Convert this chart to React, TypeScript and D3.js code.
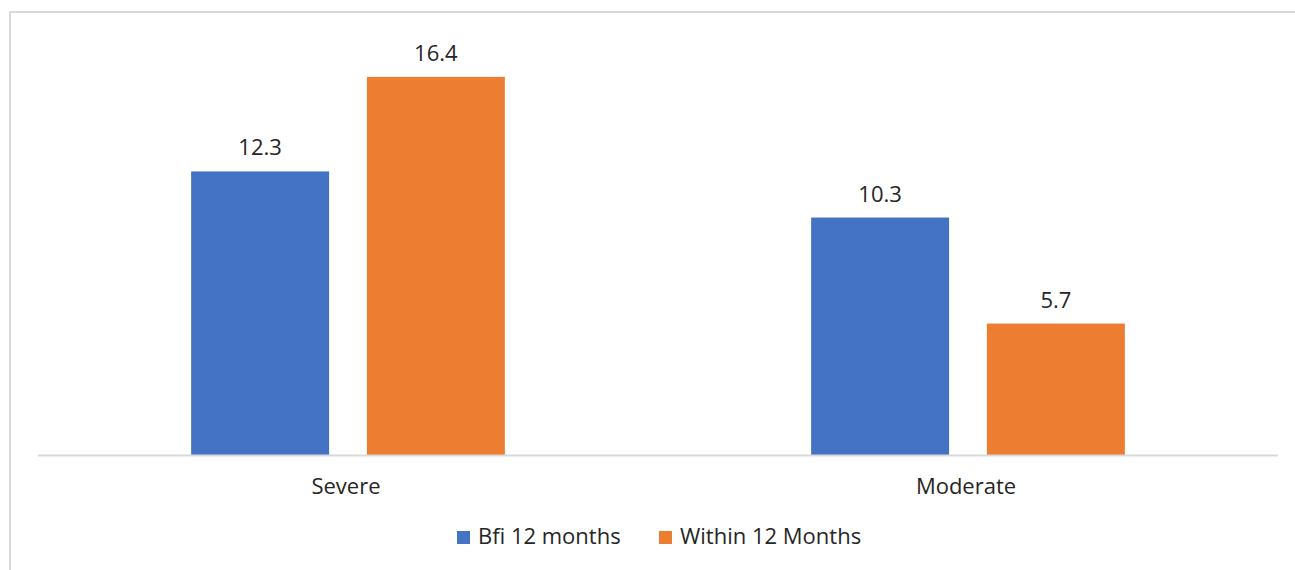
import React from "react";
import * as d3 from "d3";

const categories = ["Severe", "Moderate"];
const seriesNames = ["Bfi 12 months", "Within 12 Months"];
const bfiValues = [12.3, 10.3];
const withinValues = [16.4, 5.7];
const seriesColors = ["#4472C4", "#ED7D31"];
const yMax = 18;

const W = 1295;
const H = 570;
const FONT = "'Open Sans', sans-serif";
const TEXT = "#262626";
const FS = 22;

export default function App() {
  const plotLeft = 38;
  const plotRight = 1278;
  const baseY = 455;
  const topY = 40;

  const y = d3.scaleLinear().domain([0, yMax]).range([baseY, topY]);
  const x0 = d3.scaleBand<string>().domain(categories).range([plotLeft, plotRight]).padding(0);
  const bw0 = x0.bandwidth();
  const x1 = d3
    .scaleBand<string>()
    .domain(seriesNames)
    .range([bw0 * 0.247, bw0 * 0.753])
    .paddingInner(0.215)
    .paddingOuter(0);

  const values = [bfiValues, withinValues];

  return (
    <svg
      width={W}
      height={H}
      style={{ position: "absolute", left: 0, top: 0, display: "block", background: "#fff" }}
      fontFamily={FONT}
    >
      <rect x={10} y={12} width={W + 10} height={H + 10} fill="#fff" stroke="#d9d9d9" strokeWidth={2} />
      {categories.map((c, ci) => (
        <g key={c}>
          {seriesNames.map((s, si) => {
            const v = values[si][ci];
            const bx = (x0(c) ?? 0) + (x1(s) ?? 0);
            return (
              <g key={s}>
                <rect
                  x={bx}
                  y={y(v)}
                  width={x1.bandwidth()}
                  height={y(0) - y(v)}
                  fill={seriesColors[si]}
                />
                <text
                  x={bx + x1.bandwidth() / 2}
                  y={y(v) - 16}
                  textAnchor="middle"
                  fontSize={FS}
                  fill={TEXT}
                >
                  {v.toFixed(1)}
                </text>
              </g>
            );
          })}
          <text
            x={(x0(c) ?? 0) + bw0 / 2 - 2}
            y={494}
            textAnchor="middle"
            fontSize={FS}
            fill={TEXT}
          >
            {c}
          </text>
        </g>
      ))}
      <line x1={plotLeft} x2={plotRight} y1={baseY + 0.5} y2={baseY + 0.5} stroke="#d9d9d9" strokeWidth={2} />
      {seriesNames.map((s, si) => {
        const lx = si === 0 ? 457 : 659;
        return (
          <g key={s}>
            <rect x={lx} y={531} width={13} height={13} fill={seriesColors[si]} />
            <text x={lx + 21} y={544} fontSize={FS} fill={TEXT}>
              {s}
            </text>
          </g>
        );
      })}
    </svg>
  );
}
